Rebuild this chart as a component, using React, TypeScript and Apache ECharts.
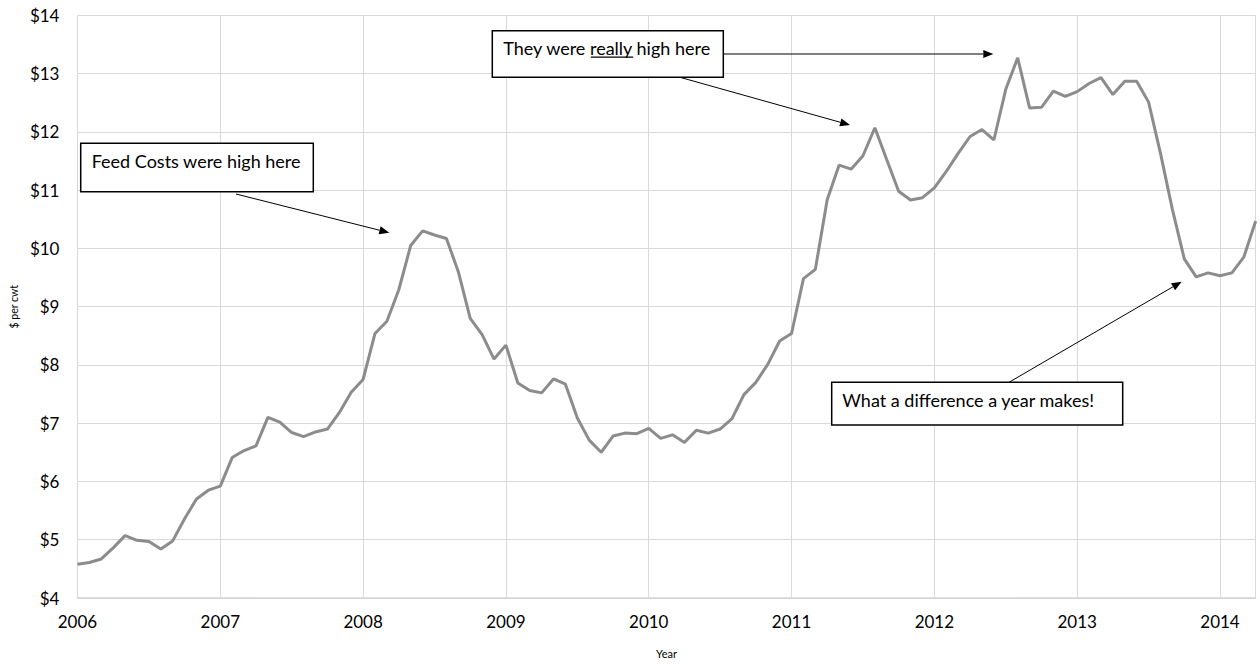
import React, { useEffect, useRef } from "react";
import * as echarts from "echarts";

// Monthly feed cost, $ per cwt, Jan 2006 .. Apr 2014
const startYear = 2006;
const feedCost: number[] = [
  // 2006
  4.58, 4.61, 4.67, 4.86, 5.07, 4.99, 4.97, 4.84, 4.98, 5.36, 5.70, 5.85,
  // 2007
  5.92, 6.41, 6.53, 6.61, 7.10, 7.02, 6.84, 6.77, 6.85, 6.90, 7.18, 7.53,
  // 2008
  7.75, 8.54, 8.75, 9.29, 10.05, 10.30, 10.23, 10.17, 9.60, 8.80, 8.52, 8.10,
  // 2009
  8.34, 7.69, 7.56, 7.52, 7.76, 7.67, 7.09, 6.71, 6.50, 6.78, 6.83, 6.82,
  // 2010
  6.91, 6.74, 6.80, 6.67, 6.88, 6.83, 6.90, 7.08, 7.49, 7.70, 8.01, 8.41,
  // 2011
  8.54, 9.48, 9.64, 10.84, 11.43, 11.36, 11.59, 12.07, 11.52, 10.98, 10.83, 10.87,
  // 2012
  11.04, 11.32, 11.63, 11.92, 12.04, 11.86, 12.73, 13.27, 12.41, 12.42, 12.70, 12.61,
  // 2013
  12.69, 12.83, 12.93, 12.64, 12.87, 12.87, 12.51, 11.63, 10.67, 9.82, 9.51, 9.58,
  // 2014
  9.53, 9.58, 9.85, 10.47,
];

const yMin = 4;
const yMax = 14;
const yAxisTitle = "$ per cwt";
const xAxisTitle = "Year";
const note1 = "Feed Costs were high here";
const note2a = "They were ";
const note2b = "really";
const note2c = " high here";
const note3 = "What a difference a year makes!";

const FONT = "Lato";
const FS = 18;
const AXFS = 17;

function arrow(x1: number, y1: number, x2: number, y2: number): any[] {
  const ang = Math.atan2(y2 - y1, x2 - x1);
  const len = 10;
  const half = 4;
  const bx = x2 - len * Math.cos(ang);
  const by = y2 - len * Math.sin(ang);
  const px = -Math.sin(ang);
  const py = Math.cos(ang);
  return [
    {
      type: "line",
      shape: { x1, y1, x2: bx, y2: by },
      style: { stroke: "#000", lineWidth: 1 },
      z: 100,
    },
    {
      type: "polygon",
      shape: {
        points: [
          [x2, y2],
          [bx + px * half, by + py * half],
          [bx - px * half, by - py * half],
        ],
      },
      style: { fill: "#000" },
      z: 100,
    },
  ];
}

function box(x: number, y: number, w: number, h: number): any {
  return {
    type: "rect",
    shape: { x, y, width: w, height: h },
    style: { fill: "#fff", stroke: "#000", lineWidth: 1.5 },
    z: 101,
  };
}

function label(x: number, y: number, text: string): any {
  return {
    type: "text",
    x,
    y,
    style: {
      text,
      font: `${FS}px ${FONT}`,
      fill: "#000",
      verticalAlign: "middle",
      align: "left",
    },
    z: 102,
  };
}

export default function App() {
  const ref = useRef<HTMLDivElement>(null);

  useEffect(() => {
    if (!ref.current) return;
    const chart = echarts.init(ref.current, undefined, { renderer: "svg" });

    const canvas = document.createElement("canvas");
    const ctx = canvas.getContext("2d")!;
    ctx.font = `${FS}px ${FONT}`;
    const wA = ctx.measureText(note2a).width;
    const wB = ctx.measureText(note2b).width;
    const t2x = 503.3;

    const data = feedCost.map((v, i) => [i, v]);

    chart.setOption({
      animation: false,
      grid: { left: 75.3, right: 4.3, top: 15.3, bottom: 59 },
      xAxis: {
        type: "value",
        min: 0,
        max: feedCost.length - 1,
        interval: 12,
        name: xAxisTitle,
        nameLocation: "middle",
        nameGap: 50,
        nameTextStyle: { fontFamily: FONT, fontSize: 11, color: "#000" },
        axisLine: { show: true, lineStyle: { color: "#d4d4d4", width: 1.5 } },
        axisTick: { show: false },
        axisLabel: {
          formatter: (v: number) => String(startYear + Math.round(v / 12)),
          fontFamily: FONT,
          fontSize: AXFS,
          color: "#000",
          margin: 15,
        },
        splitLine: { show: true, lineStyle: { color: "#d9d9d9", width: 1 } },
      },
      yAxis: {
        type: "value",
        min: yMin,
        max: yMax,
        interval: 1,
        name: yAxisTitle,
        nameLocation: "middle",
        nameGap: 58,
        nameRotate: 90,
        nameTextStyle: { fontFamily: FONT, fontSize: 10.5, color: "#000" },
        axisLine: { show: false },
        axisTick: { show: false },
        axisLabel: {
          formatter: (v: number) => "$" + v,
          fontFamily: FONT,
          fontSize: AXFS,
          color: "#000",
          margin: 18,
        },
        splitLine: { show: true, lineStyle: { color: "#d9d9d9", width: 1 } },
      },
      series: [
        {
          type: "line",
          data,
          showSymbol: false,
          symbol: "none",
          lineStyle: { color: "#8c8c8c", width: 3 },
        },
      ],
      graphic: [
        box(80.7, 143.3, 232.6, 48.4),
        label(91.7, 160.5, note1),
        ...arrow(236, 194, 389.3, 232.7),

        box(492.3, 30.7, 231, 46.6),
        label(t2x, 48, note2a + note2b + note2c),
        {
          type: "line",
          shape: { x1: t2x + wA, y1: 57.2, x2: t2x + wA + wB, y2: 57.2 },
          style: { stroke: "#000", lineWidth: 1.3 },
          z: 103,
        },
        ...arrow(723.3, 54, 993.3, 54),
        ...arrow(680, 77.3, 850, 125),

        box(831.7, 382.3, 291, 42.7),
        label(842.3, 400, note3),
        ...arrow(1009, 382.3, 1181.7, 281.7),
      ],
    });

    return () => chart.dispose();
  }, []);

  return <div ref={ref} style={{ width: 1260, height: 664, position: "absolute", left: 0, top: 0 }} />;
}
